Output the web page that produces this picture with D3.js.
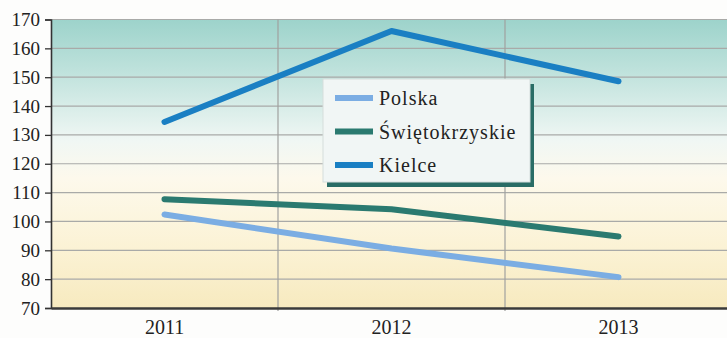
<!DOCTYPE html>
<html>
<head>
<meta charset="utf-8">
<script src="https://cdn.jsdelivr.net/npm/d3@7"></script>
<style>
  html, body { margin: 0; padding: 0; background: #fdfdfc; }
  svg { display: block; }
</style>
</head>
<body>
<svg id="chart" width="727" height="338"></svg>
<script>
// Index values by year
const years = ["2011", "2012", "2013"];
const polska = [102.4, 90.6, 80.7];
const swietokrzyskie = [107.7, 104.2, 94.8];
const kielce = [134.5, 166.0, 148.6];
const yTicks = [70, 80, 90, 100, 110, 120, 130, 140, 150, 160, 170];

const seriesNames = ["Polska", "Świętokrzyskie", "Kielce"];
const seriesColors = ["#7badE3", "#2b7a70", "#1a7fc3"];
const seriesValues = [polska, swietokrzyskie, kielce];

const FONT = "'Liberation Serif', 'Times New Roman', serif";
const W = 727, H = 338;
const m = { left: 51, top: 19.5, right: -5, bottom: 30 };
const svg = d3.select("#chart");

const x = d3.scaleBand().domain(years).range([m.left, W - m.right]);
const y = d3.scaleLinear().domain([70, 170]).range([H - m.bottom, m.top]);

// Background gradient: teal at the top fading to cream at the bottom
const defs = svg.append("defs");
const grad = defs.append("linearGradient").attr("id", "bg")
  .attr("x1", 0).attr("y1", 0).attr("x2", 0).attr("y2", 1);
[[0, "#9dd3cb"], [0.18, "#bfe2dc"], [0.42, "#f0f7f4"], [0.55, "#fdf9ec"], [0.8, "#fbf2d4"], [1, "#f7eabf"]]
  .forEach(([o, c]) => grad.append("stop").attr("offset", o).attr("stop-color", c));

svg.append("rect")
  .attr("x", m.left).attr("y", y(170))
  .attr("width", W - m.left).attr("height", y(70) - y(170))
  .attr("fill", "url(#bg)");

// Horizontal gridlines
svg.append("g").selectAll("line").data(yTicks.slice(1)).join("line")
  .attr("x1", m.left).attr("x2", W)
  .attr("y1", d => y(d)).attr("y2", d => y(d))
  .attr("stroke", "#a9aaa8").attr("stroke-width", 1.2);

// Vertical gridlines at category boundaries
svg.append("g").selectAll("line").data(years.slice(1)).join("line")
  .attr("x1", d => x(d)).attr("x2", d => x(d))
  .attr("y1", y(170)).attr("y2", y(70) + 3)
  .attr("stroke", "#a0a19f").attr("stroke-width", 1.2);

// Y axis
const yAxis = svg.append("g").attr("transform", `translate(${m.left},0)`)
  .call(d3.axisLeft(y).tickValues(yTicks).tickSize(6).tickPadding(5).tickFormat(d3.format("d")));
yAxis.attr("font-family", null);
yAxis.select(".domain").attr("stroke", "#333").attr("stroke-width", 1.6);
yAxis.selectAll(".tick line").attr("stroke", "#333").attr("stroke-width", 1.3);
yAxis.selectAll("text").style("font-family", FONT).style("font-size", "19px").attr("fill", "#222");

// X axis
const xAxis = svg.append("g").attr("transform", `translate(0,${y(70)})`)
  .call(d3.axisBottom(x).tickSize(0).tickPadding(12));
xAxis.attr("font-family", null);
xAxis.select(".domain").attr("stroke", "#3a3a3a").attr("stroke-width", 2.4);
xAxis.selectAll("text").style("font-family", FONT).style("font-size", "20px").attr("fill", "#222").attr("dy", "0.71em");

// Series lines
const line = d3.line()
  .x((d, i) => x(years[i]) + x.bandwidth() / 2)
  .y(d => y(d));

seriesValues.forEach((vals, k) => {
  svg.append("path")
    .datum(vals)
    .attr("d", line)
    .attr("fill", "none")
    .attr("stroke", seriesColors[k])
    .attr("stroke-width", 6)
    .attr("stroke-linecap", "round")
    .attr("stroke-linejoin", "round");
});

// Legend with drop shadow
const lg = svg.append("g").attr("transform", "translate(323,79)");
const lw = 207, lh = 103;
lg.append("rect").attr("x", 4).attr("y", 5).attr("width", lw).attr("height", lh)
  .attr("fill", "#2a6d66");
lg.append("rect").attr("x", 0).attr("y", 0).attr("width", lw).attr("height", lh)
  .attr("fill", "#f1f6f5").attr("stroke", "#d5dedc").attr("stroke-width", 1);

seriesNames.forEach((name, k) => {
  const cy = 19 + k * 33.5;
  lg.append("line")
    .attr("x1", 12).attr("x2", 50).attr("y1", cy).attr("y2", cy)
    .attr("stroke", seriesColors[k]).attr("stroke-width", 6);
  lg.append("text")
    .attr("x", 56).attr("y", cy)
    .attr("dy", "0.35em")
    .style("font-family", FONT)
    .style("font-size", "20px")
    .style("letter-spacing", "1px")
    .attr("fill", "#222")
    .text(name);
});
</script>
</body>
</html>
